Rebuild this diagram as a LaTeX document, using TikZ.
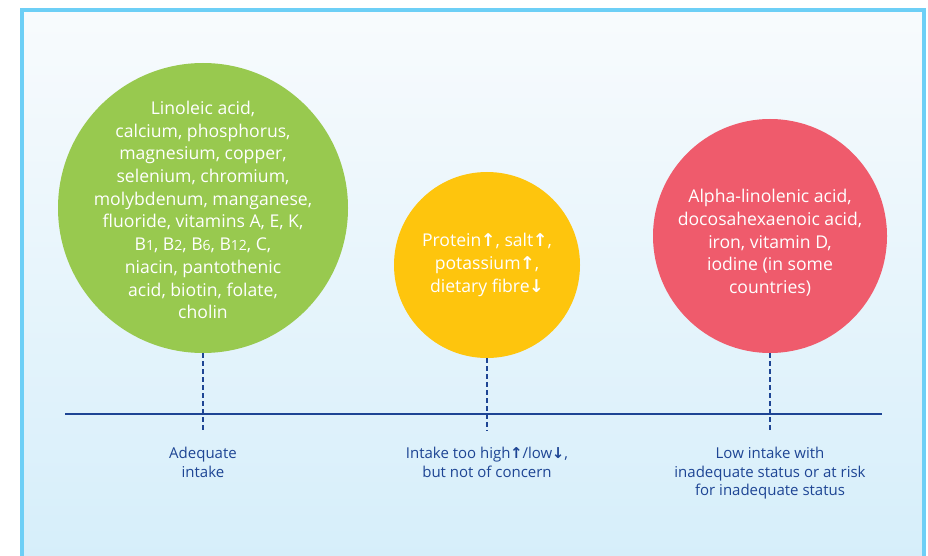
\documentclass[tikz,border=0pt]{standalone}
\usepackage{fontspec}
\setmainfont{Open Sans}
\newfontfamily\arrowfont{DejaVu Sans}
\usetikzlibrary{positioning}
\definecolor{framecol}{HTML}{6DCFF6}
\definecolor{bgtop}{HTML}{F8FBFD}
\definecolor{bgbottom}{HTML}{D5EEFA}
\definecolor{greenc}{HTML}{98C94F}
\definecolor{yellowc}{HTML}{FEC50D}
\definecolor{redc}{HTML}{EF5B6C}
\definecolor{navy}{HTML}{1E4594}
\newcommand{\up}{{\arrowfont\bfseries\kern-0.5pt\char"2191}}
\newcommand{\dn}{{\arrowfont\bfseries\kern-0.5pt\char"2193}}
\newcommand{\smalldigit}[1]{{\fontsize{14}{14}\selectfont #1}}

\begin{document}
\begin{tikzpicture}[x=1pt,y=-1pt,
  bubble/.style={circle, inner sep=0pt},
  bubbletext/.style={text=white, align=center, font=\fontsize{17.6}{22.7}\selectfont},
  tick/.style={navy, line width=1.4pt, dash pattern=on 5pt off 3pt},
  axisline/.style={navy, line width=1.4pt},
  caption/.style={text=navy, align=center, anchor=north, font=\fontsize{15}{18.5}\selectfont}]
\useasboundingbox (0,0) rectangle (928,556);
% frame and background
\fill[top color=bgtop, bottom color=bgbottom] (22,10) rectangle (924,570);
\draw[framecol, line width=4pt] (22,580) -- (22,10) -- (924,10) -- (924,580);
% circles
\node[bubble, fill=greenc, minimum size=290pt] (adequate) at (203,208) {};
\node[bubble, fill=yellowc, minimum size=186pt] (notconcern) at (487,265) {};
\node[bubble, fill=redc, minimum size=234pt] (risk) at (770,236) {};
\node[bubbletext] (adequate-txt) at (203,210) {Linoleic acid,\\calcium, phosphorus,\\magnesium, copper,\\selenium, chromium,\\molybdenum, manganese,\\fluoride, vitamins A, E, K,\\B\smalldigit{1}, B\smalldigit{2}, B\smalldigit{6}, B\smalldigit{12}, C,\\niacin, pantothenic\\acid, biotin, folate,\\cholin};
\node[bubbletext] (notconcern-txt) at (487,265) {Protein\up, salt\up,\\potassium\up,\\dietary fibre\dn};
\node[bubbletext] (risk-txt) at (770,243) {Alpha-linolenic acid,\\docosahexaenoic acid,\\iron, vitamin D,\\iodine (in some\\countries)};
% axis
\coordinate (axis-l) at (65,414);
\coordinate (axis-r) at (882,414);
\draw[axisline] (axis-l) -- (axis-r);
\coordinate (adequate-end) at (203,431);
\coordinate (notconcern-end) at (487,431);
\coordinate (risk-end) at (770,431);
\draw[tick] (adequate.south) -- (adequate-end);
\draw[tick] (notconcern.south) -- (notconcern-end);
\draw[tick] (risk.south) -- (risk-end);
% captions
\node[caption] (adequate-lbl) at (203,444) {Adequate\\intake};
\node[caption] (notconcern-lbl) at (487,444) {Intake too high\up/low\dn,\\but not of concern};
\node[caption] (risk-lbl) at (770,444) {Low intake with\\inadequate status or at risk\\for inadequate status};
\end{tikzpicture}
\end{document}
